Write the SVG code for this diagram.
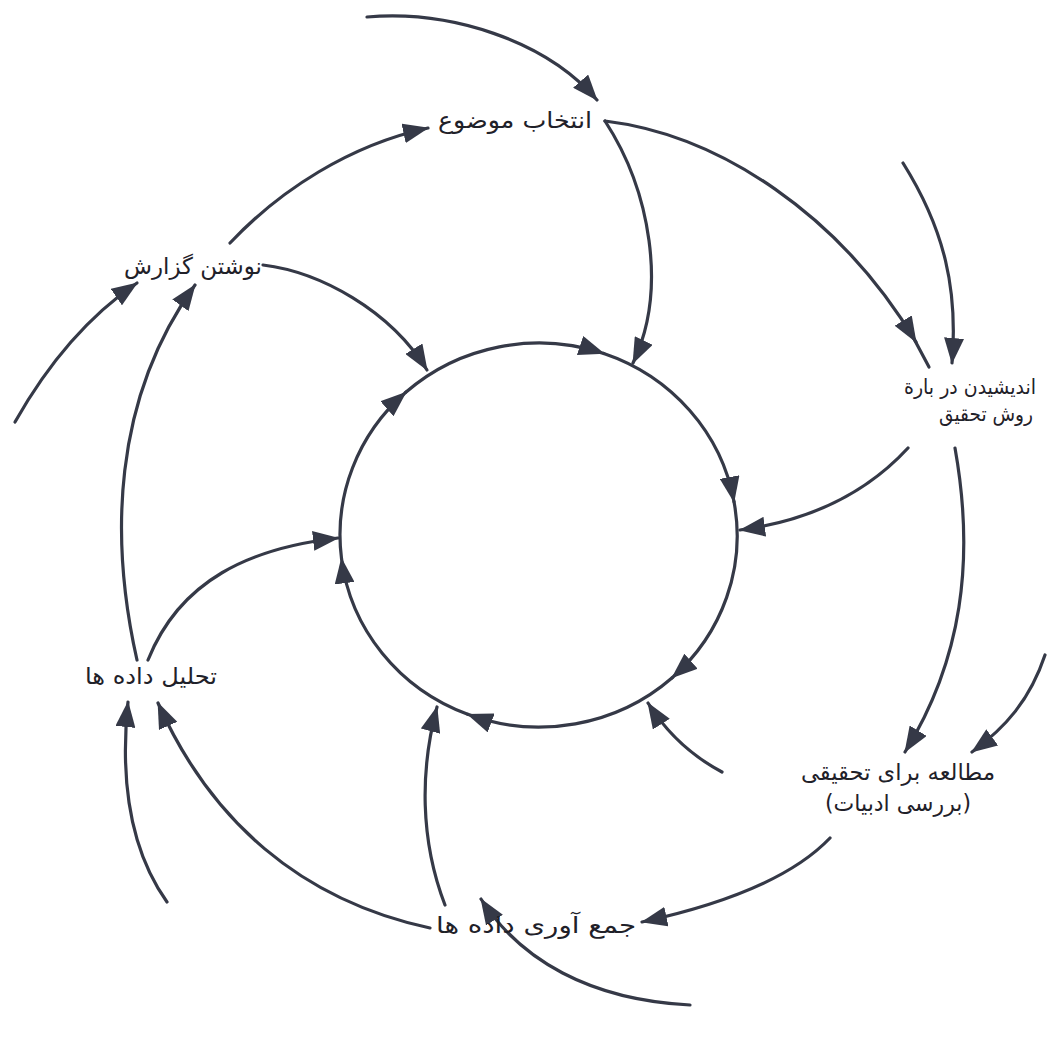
<svg xmlns="http://www.w3.org/2000/svg" width="1047" height="1042" viewBox="0 0 1047 1042">
<style>
.c{fill:none;stroke:#353947;stroke-width:3.2;stroke-linecap:round}
.a{marker-end:url(#ah)}
.t{font-family:"DejaVu Sans",sans-serif;font-size:23px;fill:#1f2129;text-anchor:middle}
.s{font-size:20.5px}
</style>
<defs>
<marker id="ah" viewBox="0 0 26 20" refX="25" refY="10" markerWidth="26" markerHeight="20" markerUnits="userSpaceOnUse" orient="auto">
<path d="M0,0 L26,10 L0,20 z" fill="#353947"/>
</marker>
</defs>
<rect width="1047" height="1042" fill="#ffffff"/>
<g id="connectors">
<path class="c a" d="M405.8,392.3 A199,192 0 0 1 603.8,353.5"/>
<path class="c a" d="M603.8,353.5 A199,192 0 0 1 734,501.7"/>
<path class="c a" d="M734,501.7 A199,192 0 0 1 672.2,677.7"/>
<path class="c a" d="M672.2,677.7 A199,192 0 0 1 467.7,714.3"/>
<path class="c a" d="M467.7,714.3 A199,192 0 0 1 341.5,558.4"/>
<path class="c a" d="M341.5,558.4 A199,192 0 0 1 405.8,392.3"/>
<path class="c a" d="M367,17 C450,10 545,40 597,100"/>
<path class="c a" d="M605,121 C720,135 840,215 916,342"/>
<path class="c" d="M913,337 L929,367"/>
<path class="c a" d="M605,121 C650,190 668,290 633,363"/>
<path class="c a" d="M903,163 C945,230 958,290 952,363"/>
<path class="c a" d="M908,448 C860,500 800,522 740,530"/>
<path class="c a" d="M955,448 C975,560 962,660 905,752"/>
<path class="c a" d="M1045,655 C1030,700 1005,728 972,752"/>
<path class="c a" d="M722,772 C690,755 665,730 648,703"/>
<path class="c a" d="M830,838 C790,880 720,905 642,922"/>
<path class="c a" d="M690,1005 C590,1000 520,960 481,899"/>
<path class="c a" d="M445,905 C420,840 420,770 437,707"/>
<path class="c a" d="M430,928 C300,900 210,820 158,703"/>
<path class="c a" d="M167,902 C130,850 120,780 128,702"/>
<path class="c a" d="M148,660 C180,580 250,548 338,538"/>
<path class="c a" d="M137,660 C110,540 112,400 195,285"/>
<path class="c a" d="M15,422 C50,360 90,315 137,283"/>
<path class="c a" d="M263,265 C320,272 390,310 427,370"/>
<path class="c a" d="M230,243 C280,190 350,145 428,128"/>
</g>
<g id="node-topic"><text class="t" x="515" y="128" direction="rtl" textLength="154" lengthAdjust="spacingAndGlyphs">انتخاب موضوع</text></g>
<g id="node-method"><text class="t s" x="970" y="394" direction="rtl" textLength="132" lengthAdjust="spacingAndGlyphs">اندیشیدن در بارة</text><text class="t s" x="986" y="421" direction="rtl" textLength="94" lengthAdjust="spacingAndGlyphs">روش تحقیق</text></g>
<g id="node-literature"><text class="t" x="898" y="780" direction="rtl" textLength="194" lengthAdjust="spacingAndGlyphs">مطالعه برای تحقیقی</text><text class="t" x="898" y="811" direction="rtl" textLength="146" lengthAdjust="spacingAndGlyphs">(بررسی ادبیات)</text></g>
<g id="node-collect"><text class="t" x="536" y="933" direction="rtl" textLength="200" lengthAdjust="spacingAndGlyphs">جمع آوری داده ها</text></g>
<g id="node-analysis"><text class="t" x="151" y="684" direction="rtl" textLength="132" lengthAdjust="spacingAndGlyphs">تحلیل داده ها</text></g>
<g id="node-report"><text class="t" x="193" y="274" direction="rtl" textLength="138" lengthAdjust="spacingAndGlyphs">نوشتن گزارش</text></g>
</svg>
